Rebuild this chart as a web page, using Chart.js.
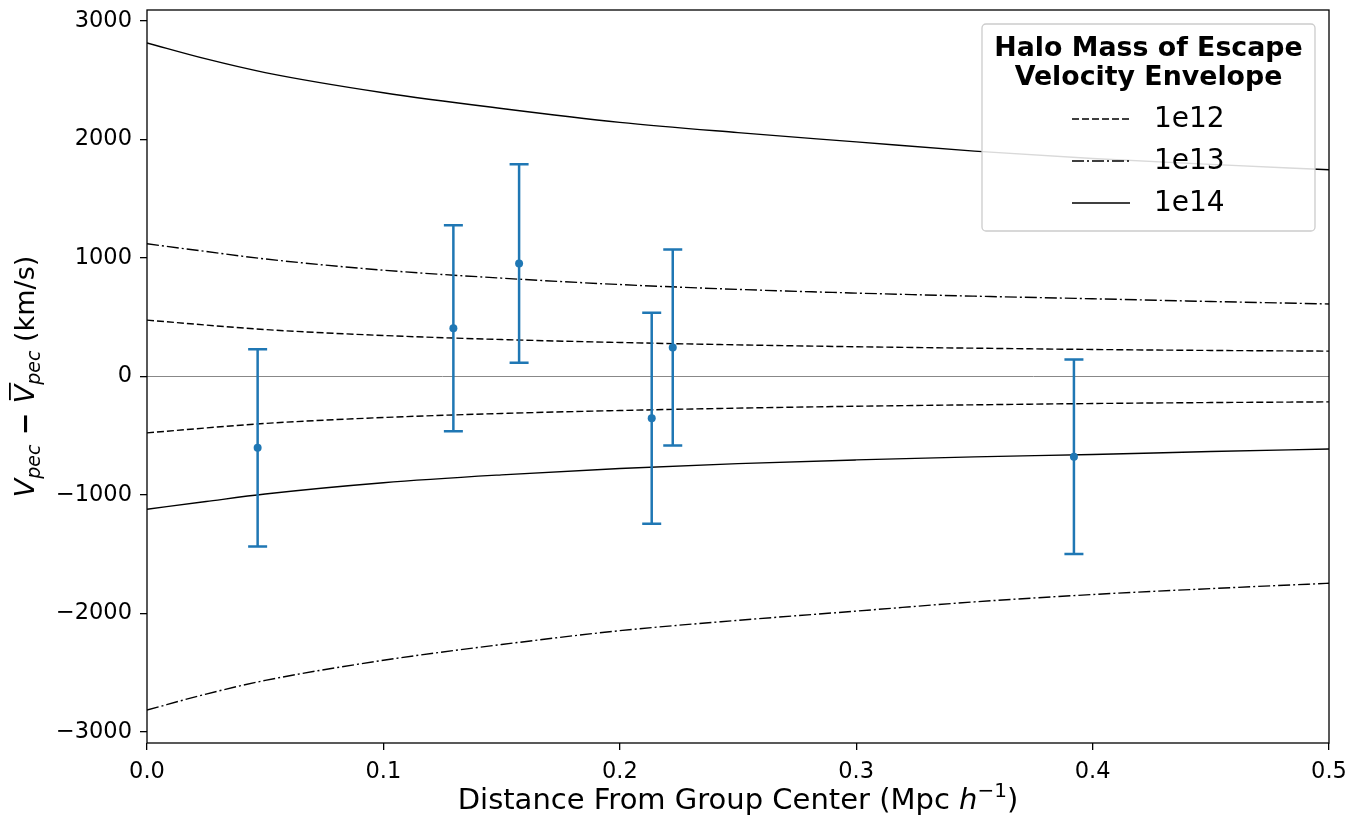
<!DOCTYPE html>
<html>
<head>
<meta charset="utf-8">
<script src="https://cdn.jsdelivr.net/npm/chart.js@4.4.1/dist/chart.umd.min.js"></script>
<style>
  html, body { margin: 0; padding: 0; background: #fff; }
  #wrap { width: 1351px; height: 818px; }
</style>
</head>
<body>
<div id="wrap"><canvas id="chart1"></canvas></div>
<script>
const FONT = "'DejaVu Sans', sans-serif";

// escape velocity envelopes
const curveX = [0, 0.025, 0.05, 0.1, 0.15, 0.2, 0.25, 0.3, 0.35, 0.4, 0.45, 0.5];
const env12Up = [476, 434, 396, 346, 312, 287, 267, 251, 239, 228, 220, 214];
const env12Down = [-476, -434, -396, -346, -312, -287, -267, -251, -239, -228, -220, -214];
const env13Up = [1120, 1055, 992, 897, 830, 776, 735, 704, 678, 656, 633, 612];
const env13Down = [-1120, -1055, -992, -897, -830, -776, -735, -704, -678, -658, -633, -612];
const env14Up = [2815, 2680, 2565, 2395, 2262, 2145, 2058, 1980, 1902, 1840, 1790, 1745];
const env14Down = [-2815, -2680, -2565, -2395, -2262, -2145, -2058, -1980, -1902, -1840, -1790, -1745];

// group members
const ptX = [0.0468, 0.1296, 0.1574, 0.2135, 0.2224, 0.3921];
const ptY = [-602, 408, 954, -352, 245, -677];
const ptErr = [833, 869, 837, 890, 827, 820];

const xTicks = [0, 0.1, 0.2, 0.3, 0.4, 0.5];
const xTickLabels = ["0.0", "0.1", "0.2", "0.3", "0.4", "0.5"];
const yTicks = [-3000, -2000, -1000, 0, 1000, 2000, 3000];
const yTickLabels = ["\u22123000", "\u22122000", "\u22121000", "0", "1000", "2000", "3000"];

const legendTitle = ["Halo Mass of Escape", "Velocity Envelope"];
const legendLabels = ["1e12", "1e13", "1e14"];

const DASHED = [7, 3];
const DASHDOT = [12, 3, 2, 3];
const SOLID = [];
const legendDashes = [DASHED, DASHDOT, SOLID];

const BLUE = "#1f77b4";

function pts(xs, ys) {
  return xs.map((x, i) => ({ x: x, y: ys[i] }));
}

function curve(ys, dash) {
  return {
    data: pts(curveX, ys),
    showLine: true,
    borderColor: "#000",
    borderWidth: 1.4,
    borderDash: dash,
    pointRadius: 0,
    cubicInterpolationMode: "monotone",
    fill: false,
  };
}

// error bars drawn right before the points dataset
const errorBars = {
  id: "errorBars",
  beforeDatasetDraw(chart, args) {
    if (args.index !== 0) return;
    const ctx = chart.ctx;
    const xs = chart.scales.x;
    const ys = chart.scales.y;
    ctx.save();
    ctx.strokeStyle = BLUE;
    ctx.lineWidth = 2.5;
    ptX.forEach((x, i) => {
      const px = xs.getPixelForValue(x);
      const top = ys.getPixelForValue(ptY[i] + ptErr[i]);
      const bot = ys.getPixelForValue(ptY[i] - ptErr[i]);
      ctx.beginPath();
      ctx.moveTo(px, top);
      ctx.lineTo(px, bot);
      ctx.moveTo(px - 9.5, top);
      ctx.lineTo(px + 9.5, top);
      ctx.moveTo(px - 9.5, bot);
      ctx.lineTo(px + 9.5, bot);
      ctx.stroke();
    });
    ctx.restore();
  },
};

function drawRich(ctx, parts, x0, y0, barTop) {
  // parts: [text, font, dy, overline]
  let total = 0;
  parts.forEach((p) => {
    ctx.font = p[1];
    total += ctx.measureText(p[0]).width;
  });
  let x = x0 - total / 2;
  parts.forEach((p) => {
    ctx.font = p[1];
    const w = ctx.measureText(p[0]).width;
    ctx.fillText(p[0], x, y0 + p[2]);
    if (p[3]) {
      ctx.fillRect(x + 3, y0 - barTop, w - 1, 1.8);
    }
    x += w;
  });
}

const frameAndText = {
  id: "frameAndText",
  afterDatasetsDraw(chart) {
    const ctx = chart.ctx;
    const a = chart.chartArea;
    ctx.save();
    ctx.strokeStyle = "#000";
    ctx.lineWidth = 1.3;
    ctx.strokeRect(a.left, a.top, a.right - a.left, a.bottom - a.top);
    ctx.restore();

    // axis titles
    ctx.save();
    ctx.fillStyle = "#000";
    ctx.textBaseline = "alphabetic";
    drawRich(ctx, [
      ["Distance From Group Center (Mpc ", "29px " + FONT, 0],
      ["h", "italic 29px " + FONT, 0],
      ["\u22121", "20px " + FONT, -12],
      [")", "29px " + FONT, 0],
    ], (a.left + a.right) / 2, 809, 0);

    ctx.translate(34, (a.top + a.bottom) / 2);
    ctx.rotate(-Math.PI / 2);
    const it = "italic 27px " + FONT;
    const sub = "italic 19px " + FONT;
    drawRich(ctx, [
      ["V", it, 0],
      ["pec", sub, 6],
      [" \u2212 ", "bold 27px " + FONT, 0],
      ["V", it, 0, true],
      ["pec", sub, 6],
      [" (km/s)", "27px " + FONT, 0],
    ], 0, 0, 25);
    ctx.restore();

    // legend box
    const bw = 333, bh = 207;
    const bx = a.right - 14 - bw;
    const by = a.top + 14;
    ctx.save();
    ctx.beginPath();
    ctx.roundRect(bx, by, bw, bh, 4);
    ctx.fillStyle = "rgba(255,255,255,0.85)";
    ctx.fill();
    ctx.strokeStyle = "#cccccc";
    ctx.lineWidth = 1.3;
    ctx.stroke();
    ctx.fillStyle = "#000";
    ctx.textAlign = "center";
    ctx.textBaseline = "alphabetic";
    ctx.font = "bold 26.8px " + FONT;
    const cx = bx + bw / 2;
    ctx.fillText(legendTitle[0], cx, by + 32);
    ctx.fillText(legendTitle[1], cx, by + 61);
    ctx.textAlign = "left";
    ctx.textBaseline = "middle";
    ctx.font = "28px " + FONT;
    legendLabels.forEach((lab, i) => {
      const yy = by + 95 + i * 42;
      ctx.beginPath();
      ctx.setLineDash(legendDashes[i]);
      ctx.strokeStyle = "#000";
      ctx.lineWidth = 1.4;
      ctx.moveTo(bx + 90, yy);
      ctx.lineTo(bx + 148, yy);
      ctx.stroke();
      ctx.setLineDash([]);
      ctx.fillText(lab, bx + 172, yy + 1);
    });
    ctx.restore();
  },
};

const ctx1 = document.getElementById("chart1").getContext("2d");

const chart1 = new Chart(ctx1, {
  type: "scatter",
  data: {
    datasets: [
      {
        data: pts(ptX, ptY),
        backgroundColor: BLUE,
        borderColor: BLUE,
        pointRadius: 4,
        pointBorderWidth: 0,
        showLine: false,
      },
      curve(env12Up, DASHED),
      curve(env12Down, DASHED),
      curve(env13Up, DASHDOT),
      curve(env13Down, SOLID),
      curve(env14Up, SOLID),
      curve(env14Down, DASHDOT),
      {
        data: [{ x: 0, y: 0 }, { x: 0.5, y: 0 }],
        showLine: true,
        borderColor: "#888",
        borderWidth: 1,
        pointRadius: 0,
      },
    ],
  },
  options: {
    responsive: true,
    maintainAspectRatio: false,
    animation: false,
    layout: { padding: { top: 10, right: 22, left: 0, bottom: 0 } },
    plugins: { legend: { display: false }, tooltip: { enabled: false } },
    scales: {
      x: {
        type: "linear",
        min: 0,
        max: 0.5,
        afterBuildTicks: (s) => { s.ticks = xTicks.map((v) => ({ value: v })); },
        afterFit: (s) => { s.height = 75; s.paddingLeft = 0; s.paddingRight = 0; },
        border: { display: false },
        grid: { drawOnChartArea: false, drawTicks: true, tickLength: 7, color: "#000", lineWidth: 1.3 },
        ticks: {
          color: "#000",
          font: { family: FONT, size: 22.5 },
          padding: 9,
          maxRotation: 0,
          callback: (v) => xTickLabels[xTicks.indexOf(v)],
        },
      },
      y: {
        min: -3093,
        max: 3093,
        afterBuildTicks: (s) => { s.ticks = yTicks.map((v) => ({ value: v })); },
        afterFit: (s) => { s.width = 147; s.paddingTop = 0; s.paddingBottom = 0; },
        border: { display: false },
        grid: { drawOnChartArea: false, drawTicks: true, tickLength: 7, color: "#000", lineWidth: 1.3 },
        ticks: {
          color: "#000",
          font: { family: FONT, size: 22.5 },
          padding: 8,
          callback: (v) => yTickLabels[yTicks.indexOf(v)],
        },
      },
    },
  },
  plugins: [errorBars, frameAndText],
});
</script>
</body>
</html>
